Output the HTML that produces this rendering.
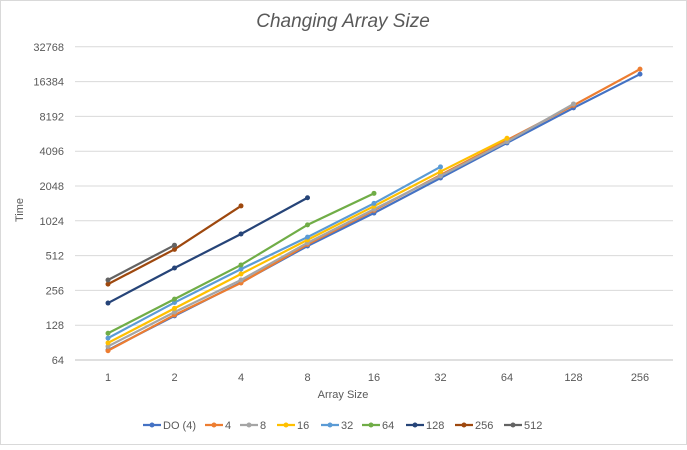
<!DOCTYPE html>
<html><head><meta charset="utf-8"><style>
body{margin:0;background:#fff;font-family:"Liberation Sans",sans-serif;}
svg text{font-family:"Liberation Sans",sans-serif;fill:#595959;}
</style></head><body>
<svg id="c" width="687" height="445">
<rect x="0.5" y="0.5" width="686" height="444" fill="#fff" stroke="#d9d9d9"/>
<text x="343" y="27" text-anchor="middle" font-size="19" font-style="italic">Changing Array Size</text>
<text x="343" y="398" text-anchor="middle" font-size="11">Array Size</text>
<text transform="translate(23,210) rotate(-90)" text-anchor="middle" font-size="11">Time</text>
<g id="grid"></g><g id="series"></g><g id="legend"></g>
</svg>
<script>
const categories=["1","2","4","8","16","32","64","128","256"];
const yTicks=[64,128,256,512,1024,2048,4096,8192,16384,32768];
const seriesNames=["DO (4)","4","8","16","32","64","128","256","512"];
const colors=["#4472c4","#ed7d31","#a5a5a5","#ffc000","#5b9bd5","#70ad47","#264478","#9e480e","#636363"];
const sDO=[78,154,300,620,1195,2400,4830,9700,19000];
const s4=[77,157,297,640,1260,2550,5100,10200,21000];
const s8=[84,166,315,660,1290,2500,4950,10500];
const s16=[90,179,355,700,1370,2730,5300];
const s32=[99,201,391,740,1450,3000];
const s64=[109,215,425,945,1770];
const s128=[199,400,787,1620];
const s256=[290,580,1377];
const s512=[315,630];
const allSeries=[sDO,s4,s8,s16,s32,s64,s128,s256,s512];
const NS="http://www.w3.org/2000/svg";
const X0=108,DX=66.5,Y64=360,DY=34.8;
function xs(i){return X0+i*DX;}
function ys(v){return Y64-DY*Math.log2(v/64);}
function mk(t,a,p){const e=document.createElementNS(NS,t);for(const k in a)e.setAttribute(k,a[k]);p.appendChild(e);return e;}
const grid=document.getElementById('grid');
yTicks.forEach((t,i)=>{
 const l=mk('line',{x1:75,x2:673,y1:ys(t),y2:ys(t),stroke:i==0?'#bfbfbf':'#d9d9d9','stroke-width':1},grid);
 
 
 const tx=mk('text',{x:64,y:ys(t)+4,'text-anchor':'end','font-size':11},grid);tx.textContent=t;
 
 
});
categories.forEach((c,i)=>{
 const tx=mk('text',{x:xs(i),y:381,'text-anchor':'middle','font-size':11},grid);tx.textContent=c;
 
 
});
const sg=document.getElementById('series');
allSeries.forEach((s,k)=>{
 const g=mk('g',{},sg);
 
 
 const pts=s.map((v,i)=>xs(i)+','+ys(v)).join(' ');
 mk('polyline',{points:pts,fill:'none',stroke:colors[k],'stroke-width':2.2},g);
 s.forEach((v,i)=>{
  const c=mk('circle',{cx:xs(i),cy:ys(v),r:2.5,fill:colors[k]},g);
  
  
 });
});
const lg=document.getElementById('legend');
const lx=[143,205,240,277,321,362,406,455,504];
seriesNames.forEach((n,k)=>{
 const g=mk('g',{},lg);
 
 
 mk('line',{x1:lx[k],x2:lx[k]+18,y1:425,y2:425,stroke:colors[k],'stroke-width':2.2},g);
 mk('circle',{cx:lx[k]+9,cy:425,r:2.5,fill:colors[k]},g);
 const t=mk('text',{x:lx[k]+20,y:429,'font-size':11},g);t.textContent=n;
});
</script>
</body></html>
